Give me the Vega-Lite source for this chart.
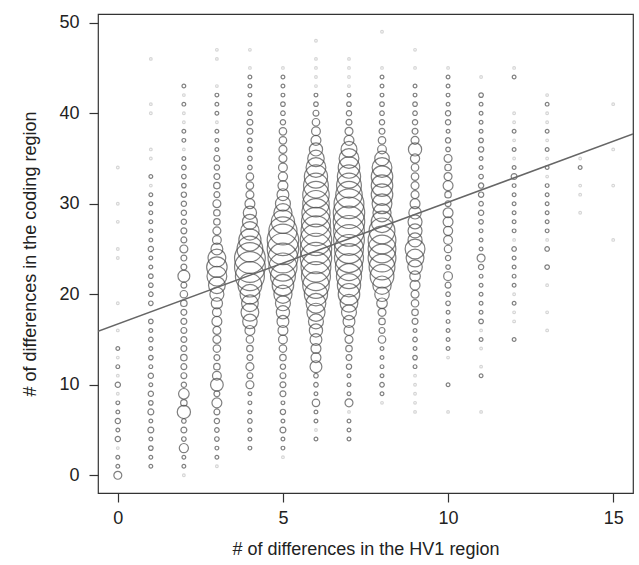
{
"$schema": "https://vega.github.io/schema/vega-lite/v6.json",
"width": 535, "height": 479,
"autosize": {"type": "none"},
"padding": {"left": 98, "top": 14, "right": 6, "bottom": 72},
"config": {
  "view": {"stroke": "#333333", "strokeWidth": 1.2},
  "axis": {"domain": false, "grid": false, "tickColor": "#333333", "tickSize": 9, "tickWidth": 1.2,
    "labelFont": "Liberation Sans", "labelFontSize": 18, "labelColor": "#222222",
    "titleFont": "Liberation Sans", "titleFontSize": 18, "titleFontWeight": "normal", "titleColor": "#222222"}
},
"datasets": {
"pts": [
{"x":0,"y":0,"n":9},{"x":0,"y":1,"n":2},{"x":0,"y":2,"n":2},{"x":0,"y":3,"n":1},{"x":0,"y":4,"n":4},{"x":0,"y":5,"n":2},{"x":0,"y":6,"n":4},{"x":0,"y":7,"n":2},{"x":0,"y":8,"n":2},{"x":0,"y":9,"n":1},{"x":0,"y":10,"n":4},{"x":0,"y":11,"n":1},{"x":0,"y":12,"n":2},{"x":0,"y":13,"n":1},{"x":0,"y":14,"n":2},{"x":0,"y":16,"n":1},{"x":0,"y":19,"n":1},{"x":0,"y":24,"n":1},{"x":0,"y":25,"n":1},{"x":0,"y":28,"n":1},{"x":0,"y":30,"n":1},{"x":0,"y":34,"n":1},
{"x":1,"y":1,"n":2},{"x":1,"y":2,"n":2},{"x":1,"y":3,"n":3},{"x":1,"y":4,"n":2},{"x":1,"y":5,"n":5},{"x":1,"y":6,"n":2},{"x":1,"y":7,"n":5},{"x":1,"y":8,"n":3},{"x":1,"y":9,"n":4},{"x":1,"y":10,"n":2},{"x":1,"y":11,"n":4},{"x":1,"y":12,"n":2},{"x":1,"y":13,"n":3},{"x":1,"y":14,"n":2},{"x":1,"y":15,"n":3},{"x":1,"y":16,"n":2},{"x":1,"y":17,"n":3},{"x":1,"y":19,"n":3},{"x":1,"y":20,"n":3},{"x":1,"y":21,"n":3},{"x":1,"y":22,"n":3},{"x":1,"y":23,"n":2},{"x":1,"y":24,"n":2},{"x":1,"y":25,"n":4},{"x":1,"y":26,"n":2},{"x":1,"y":27,"n":2},{"x":1,"y":28,"n":2},{"x":1,"y":29,"n":2},{"x":1,"y":30,"n":2},{"x":1,"y":31,"n":2},{"x":1,"y":32,"n":1},{"x":1,"y":33,"n":2},{"x":1,"y":35,"n":1},{"x":1,"y":36,"n":1},{"x":1,"y":40,"n":1},{"x":1,"y":41,"n":1},{"x":1,"y":46,"n":1},
{"x":2,"y":0,"n":1},{"x":2,"y":1,"n":2},{"x":2,"y":2,"n":2},{"x":2,"y":3,"n":12},{"x":2,"y":4,"n":3},{"x":2,"y":5,"n":5},{"x":2,"y":6,"n":3},{"x":2,"y":7,"n":25},{"x":2,"y":8,"n":6},{"x":2,"y":9,"n":16},{"x":2,"y":10,"n":4},{"x":2,"y":11,"n":5},{"x":2,"y":12,"n":5},{"x":2,"y":13,"n":6},{"x":2,"y":14,"n":5},{"x":2,"y":15,"n":5},{"x":2,"y":16,"n":5},{"x":2,"y":17,"n":5},{"x":2,"y":18,"n":5},{"x":2,"y":19,"n":6},{"x":2,"y":20,"n":8},{"x":2,"y":21,"n":5},{"x":2,"y":22,"n":20},{"x":2,"y":23,"n":5},{"x":2,"y":24,"n":5},{"x":2,"y":25,"n":9},{"x":2,"y":26,"n":5},{"x":2,"y":27,"n":5},{"x":2,"y":28,"n":4},{"x":2,"y":29,"n":4},{"x":2,"y":30,"n":4},{"x":2,"y":31,"n":4},{"x":2,"y":32,"n":3},{"x":2,"y":33,"n":3},{"x":2,"y":34,"n":3},{"x":2,"y":35,"n":2},{"x":2,"y":36,"n":1},{"x":2,"y":37,"n":2},{"x":2,"y":38,"n":2},{"x":2,"y":39,"n":1},{"x":2,"y":40,"n":1},{"x":2,"y":41,"n":2},{"x":2,"y":42,"n":1},{"x":2,"y":43,"n":2},
{"x":3,"y":1,"n":1},{"x":3,"y":2,"n":2},{"x":3,"y":3,"n":2},{"x":3,"y":4,"n":3},{"x":3,"y":5,"n":3},{"x":3,"y":6,"n":4},{"x":3,"y":7,"n":5},{"x":3,"y":8,"n":14},{"x":3,"y":9,"n":5},{"x":3,"y":10,"n":23},{"x":3,"y":11,"n":11},{"x":3,"y":12,"n":6},{"x":3,"y":13,"n":5},{"x":3,"y":14,"n":8},{"x":3,"y":15,"n":9},{"x":3,"y":16,"n":9},{"x":3,"y":17,"n":14},{"x":3,"y":18,"n":11},{"x":3,"y":19,"n":18},{"x":3,"y":20,"n":28},{"x":3,"y":21,"n":40},{"x":3,"y":22,"n":56},{"x":3,"y":23,"n":60},{"x":3,"y":24,"n":45},{"x":3,"y":25,"n":20},{"x":3,"y":26,"n":11},{"x":3,"y":27,"n":9},{"x":3,"y":28,"n":6},{"x":3,"y":29,"n":6},{"x":3,"y":30,"n":9},{"x":3,"y":31,"n":5},{"x":3,"y":32,"n":6},{"x":3,"y":33,"n":5},{"x":3,"y":34,"n":4},{"x":3,"y":35,"n":5},{"x":3,"y":36,"n":2},{"x":3,"y":37,"n":2},{"x":3,"y":38,"n":2},{"x":3,"y":39,"n":1},{"x":3,"y":40,"n":2},{"x":3,"y":41,"n":2},{"x":3,"y":42,"n":2},{"x":3,"y":43,"n":1},{"x":3,"y":46,"n":1},{"x":3,"y":47,"n":1},
{"x":4,"y":3,"n":2},{"x":4,"y":4,"n":2},{"x":4,"y":5,"n":2},{"x":4,"y":6,"n":3},{"x":4,"y":7,"n":2},{"x":4,"y":8,"n":2},{"x":4,"y":9,"n":2},{"x":4,"y":10,"n":9},{"x":4,"y":11,"n":5},{"x":4,"y":12,"n":9},{"x":4,"y":13,"n":5},{"x":4,"y":14,"n":6},{"x":4,"y":15,"n":8},{"x":4,"y":16,"n":14},{"x":4,"y":17,"n":30},{"x":4,"y":18,"n":45},{"x":4,"y":19,"n":40},{"x":4,"y":20,"n":56},{"x":4,"y":21,"n":80},{"x":4,"y":22,"n":120},{"x":4,"y":23,"n":135},{"x":4,"y":24,"n":135},{"x":4,"y":25,"n":95},{"x":4,"y":26,"n":70},{"x":4,"y":27,"n":48},{"x":4,"y":28,"n":32},{"x":4,"y":29,"n":25},{"x":4,"y":30,"n":14},{"x":4,"y":31,"n":9},{"x":4,"y":32,"n":8},{"x":4,"y":33,"n":8},{"x":4,"y":34,"n":3},{"x":4,"y":35,"n":3},{"x":4,"y":36,"n":3},{"x":4,"y":37,"n":3},{"x":4,"y":38,"n":5},{"x":4,"y":39,"n":5},{"x":4,"y":40,"n":3},{"x":4,"y":41,"n":2},{"x":4,"y":42,"n":2},{"x":4,"y":43,"n":2},{"x":4,"y":44,"n":2},{"x":4,"y":45,"n":1},{"x":4,"y":47,"n":1},
{"x":5,"y":2,"n":1},{"x":5,"y":3,"n":2},{"x":5,"y":4,"n":2},{"x":5,"y":5,"n":5},{"x":5,"y":6,"n":2},{"x":5,"y":7,"n":4},{"x":5,"y":8,"n":2},{"x":5,"y":9,"n":5},{"x":5,"y":10,"n":5},{"x":5,"y":11,"n":5},{"x":5,"y":12,"n":4},{"x":5,"y":13,"n":6},{"x":5,"y":14,"n":8},{"x":5,"y":15,"n":11},{"x":5,"y":16,"n":14},{"x":5,"y":17,"n":20},{"x":5,"y":18,"n":25},{"x":5,"y":19,"n":32},{"x":5,"y":20,"n":47},{"x":5,"y":21,"n":66},{"x":5,"y":22,"n":88},{"x":5,"y":23,"n":113},{"x":5,"y":24,"n":127},{"x":5,"y":25,"n":141},{"x":5,"y":26,"n":141},{"x":5,"y":27,"n":113},{"x":5,"y":28,"n":77},{"x":5,"y":29,"n":47},{"x":5,"y":30,"n":32},{"x":5,"y":31,"n":20},{"x":5,"y":32,"n":14},{"x":5,"y":33,"n":12},{"x":5,"y":34,"n":11},{"x":5,"y":35,"n":9},{"x":5,"y":36,"n":9},{"x":5,"y":37,"n":8},{"x":5,"y":38,"n":8},{"x":5,"y":39,"n":4},{"x":5,"y":40,"n":3},{"x":5,"y":41,"n":3},{"x":5,"y":42,"n":2},{"x":5,"y":43,"n":2},{"x":5,"y":44,"n":2},{"x":5,"y":45,"n":1},
{"x":6,"y":4,"n":2},{"x":6,"y":5,"n":1},{"x":6,"y":6,"n":2},{"x":6,"y":7,"n":2},{"x":6,"y":8,"n":8},{"x":6,"y":9,"n":2},{"x":6,"y":10,"n":3},{"x":6,"y":11,"n":3},{"x":6,"y":12,"n":20},{"x":6,"y":13,"n":14},{"x":6,"y":14,"n":14},{"x":6,"y":15,"n":20},{"x":6,"y":16,"n":25},{"x":6,"y":17,"n":32},{"x":6,"y":18,"n":47},{"x":6,"y":19,"n":56},{"x":6,"y":20,"n":77},{"x":6,"y":21,"n":100},{"x":6,"y":22,"n":120},{"x":6,"y":23,"n":127},{"x":6,"y":24,"n":141},{"x":6,"y":25,"n":141},{"x":6,"y":26,"n":141},{"x":6,"y":27,"n":127},{"x":6,"y":28,"n":120},{"x":6,"y":29,"n":113},{"x":6,"y":30,"n":100},{"x":6,"y":31,"n":100},{"x":6,"y":32,"n":88},{"x":6,"y":33,"n":77},{"x":6,"y":34,"n":56},{"x":6,"y":35,"n":39},{"x":6,"y":36,"n":25},{"x":6,"y":37,"n":14},{"x":6,"y":38,"n":11},{"x":6,"y":39,"n":8},{"x":6,"y":40,"n":5},{"x":6,"y":41,"n":3},{"x":6,"y":42,"n":2},{"x":6,"y":43,"n":1},{"x":6,"y":44,"n":1},{"x":6,"y":45,"n":1},{"x":6,"y":46,"n":1},{"x":6,"y":48,"n":1},
{"x":7,"y":4,"n":2},{"x":7,"y":5,"n":2},{"x":7,"y":6,"n":2},{"x":7,"y":7,"n":1},{"x":7,"y":8,"n":9},{"x":7,"y":9,"n":2},{"x":7,"y":10,"n":2},{"x":7,"y":11,"n":2},{"x":7,"y":12,"n":4},{"x":7,"y":13,"n":5},{"x":7,"y":14,"n":6},{"x":7,"y":15,"n":9},{"x":7,"y":16,"n":14},{"x":7,"y":17,"n":20},{"x":7,"y":18,"n":32},{"x":7,"y":19,"n":45},{"x":7,"y":20,"n":66},{"x":7,"y":21,"n":77},{"x":7,"y":22,"n":90},{"x":7,"y":23,"n":105},{"x":7,"y":24,"n":120},{"x":7,"y":25,"n":120},{"x":7,"y":26,"n":135},{"x":7,"y":27,"n":135},{"x":7,"y":28,"n":141},{"x":7,"y":29,"n":141},{"x":7,"y":30,"n":127},{"x":7,"y":31,"n":100},{"x":7,"y":32,"n":88},{"x":7,"y":33,"n":77},{"x":7,"y":34,"n":66},{"x":7,"y":35,"n":56},{"x":7,"y":36,"n":36},{"x":7,"y":37,"n":14},{"x":7,"y":38,"n":9},{"x":7,"y":39,"n":5},{"x":7,"y":40,"n":4},{"x":7,"y":41,"n":3},{"x":7,"y":42,"n":2},{"x":7,"y":43,"n":1},{"x":7,"y":44,"n":1},{"x":7,"y":45,"n":1},{"x":7,"y":46,"n":1},
{"x":8,"y":8,"n":1},{"x":8,"y":9,"n":2},{"x":8,"y":10,"n":3},{"x":8,"y":11,"n":2},{"x":8,"y":12,"n":2},{"x":8,"y":13,"n":2},{"x":8,"y":14,"n":2},{"x":8,"y":15,"n":8},{"x":8,"y":16,"n":5},{"x":8,"y":17,"n":6},{"x":8,"y":18,"n":9},{"x":8,"y":19,"n":16},{"x":8,"y":20,"n":30},{"x":8,"y":21,"n":48},{"x":8,"y":22,"n":80},{"x":8,"y":23,"n":95},{"x":8,"y":24,"n":110},{"x":8,"y":25,"n":110},{"x":8,"y":26,"n":110},{"x":8,"y":27,"n":95},{"x":8,"y":28,"n":66},{"x":8,"y":29,"n":47},{"x":8,"y":30,"n":56},{"x":8,"y":31,"n":66},{"x":8,"y":32,"n":66},{"x":8,"y":33,"n":66},{"x":8,"y":34,"n":56},{"x":8,"y":35,"n":30},{"x":8,"y":36,"n":11},{"x":8,"y":37,"n":8},{"x":8,"y":38,"n":5},{"x":8,"y":39,"n":4},{"x":8,"y":40,"n":3},{"x":8,"y":41,"n":3},{"x":8,"y":42,"n":2},{"x":8,"y":43,"n":2},{"x":8,"y":44,"n":2},{"x":8,"y":45,"n":1},{"x":8,"y":49,"n":1},
{"x":9,"y":7,"n":1},{"x":9,"y":8,"n":1},{"x":9,"y":9,"n":1},{"x":9,"y":10,"n":1},{"x":9,"y":11,"n":1},{"x":9,"y":12,"n":2},{"x":9,"y":13,"n":3},{"x":9,"y":14,"n":2},{"x":9,"y":15,"n":3},{"x":9,"y":16,"n":2},{"x":9,"y":17,"n":5},{"x":9,"y":18,"n":6},{"x":9,"y":19,"n":8},{"x":9,"y":20,"n":9},{"x":9,"y":21,"n":14},{"x":9,"y":22,"n":16},{"x":9,"y":23,"n":30},{"x":9,"y":24,"n":45},{"x":9,"y":25,"n":56},{"x":9,"y":26,"n":28},{"x":9,"y":27,"n":28},{"x":9,"y":28,"n":28},{"x":9,"y":29,"n":22},{"x":9,"y":30,"n":14},{"x":9,"y":31,"n":9},{"x":9,"y":32,"n":9},{"x":9,"y":33,"n":8},{"x":9,"y":34,"n":8},{"x":9,"y":35,"n":12},{"x":9,"y":36,"n":25},{"x":9,"y":37,"n":9},{"x":9,"y":38,"n":5},{"x":9,"y":39,"n":4},{"x":9,"y":40,"n":3},{"x":9,"y":41,"n":3},{"x":9,"y":42,"n":2},{"x":9,"y":43,"n":2},{"x":9,"y":45,"n":1},{"x":9,"y":47,"n":1},
{"x":10,"y":7,"n":1},{"x":10,"y":10,"n":2},{"x":10,"y":13,"n":1},{"x":10,"y":14,"n":2},{"x":10,"y":15,"n":2},{"x":10,"y":16,"n":2},{"x":10,"y":17,"n":2},{"x":10,"y":18,"n":2},{"x":10,"y":19,"n":3},{"x":10,"y":20,"n":3},{"x":10,"y":21,"n":5},{"x":10,"y":22,"n":11},{"x":10,"y":23,"n":3},{"x":10,"y":24,"n":4},{"x":10,"y":25,"n":8},{"x":10,"y":26,"n":11},{"x":10,"y":27,"n":12},{"x":10,"y":28,"n":14},{"x":10,"y":29,"n":14},{"x":10,"y":30,"n":5},{"x":10,"y":31,"n":6},{"x":10,"y":32,"n":14},{"x":10,"y":33,"n":9},{"x":10,"y":34,"n":6},{"x":10,"y":35,"n":9},{"x":10,"y":36,"n":3},{"x":10,"y":37,"n":4},{"x":10,"y":38,"n":2},{"x":10,"y":39,"n":4},{"x":10,"y":40,"n":4},{"x":10,"y":41,"n":2},{"x":10,"y":42,"n":2},{"x":10,"y":43,"n":2},{"x":10,"y":44,"n":2},{"x":10,"y":45,"n":1},
{"x":11,"y":7,"n":1},{"x":11,"y":11,"n":2},{"x":11,"y":12,"n":1},{"x":11,"y":14,"n":1},{"x":11,"y":15,"n":2},{"x":11,"y":16,"n":1},{"x":11,"y":17,"n":3},{"x":11,"y":18,"n":2},{"x":11,"y":19,"n":2},{"x":11,"y":20,"n":2},{"x":11,"y":21,"n":2},{"x":11,"y":22,"n":2},{"x":11,"y":23,"n":4},{"x":11,"y":24,"n":9},{"x":11,"y":25,"n":2},{"x":11,"y":26,"n":2},{"x":11,"y":27,"n":2},{"x":11,"y":28,"n":3},{"x":11,"y":29,"n":4},{"x":11,"y":30,"n":3},{"x":11,"y":31,"n":4},{"x":11,"y":32,"n":4},{"x":11,"y":33,"n":3},{"x":11,"y":34,"n":2},{"x":11,"y":35,"n":2},{"x":11,"y":36,"n":4},{"x":11,"y":37,"n":3},{"x":11,"y":38,"n":2},{"x":11,"y":39,"n":2},{"x":11,"y":40,"n":2},{"x":11,"y":41,"n":2},{"x":11,"y":42,"n":3},{"x":11,"y":44,"n":1},
{"x":12,"y":15,"n":2},{"x":12,"y":17,"n":1},{"x":12,"y":18,"n":1},{"x":12,"y":19,"n":2},{"x":12,"y":20,"n":1},{"x":12,"y":21,"n":2},{"x":12,"y":22,"n":2},{"x":12,"y":23,"n":2},{"x":12,"y":24,"n":2},{"x":12,"y":25,"n":3},{"x":12,"y":26,"n":1},{"x":12,"y":27,"n":2},{"x":12,"y":28,"n":2},{"x":12,"y":29,"n":2},{"x":12,"y":30,"n":2},{"x":12,"y":31,"n":2},{"x":12,"y":32,"n":2},{"x":12,"y":33,"n":5},{"x":12,"y":34,"n":2},{"x":12,"y":35,"n":1},{"x":12,"y":36,"n":2},{"x":12,"y":37,"n":1},{"x":12,"y":38,"n":2},{"x":12,"y":39,"n":1},{"x":12,"y":40,"n":1},{"x":12,"y":44,"n":2},{"x":12,"y":45,"n":1},
{"x":13,"y":16,"n":1},{"x":13,"y":18,"n":1},{"x":13,"y":21,"n":1},{"x":13,"y":23,"n":3},{"x":13,"y":25,"n":3},{"x":13,"y":26,"n":1},{"x":13,"y":27,"n":2},{"x":13,"y":28,"n":2},{"x":13,"y":29,"n":2},{"x":13,"y":30,"n":2},{"x":13,"y":31,"n":2},{"x":13,"y":32,"n":2},{"x":13,"y":33,"n":1},{"x":13,"y":34,"n":2},{"x":13,"y":35,"n":1},{"x":13,"y":36,"n":2},{"x":13,"y":37,"n":1},{"x":13,"y":38,"n":2},{"x":13,"y":39,"n":1},{"x":13,"y":40,"n":1},{"x":13,"y":41,"n":2},{"x":13,"y":42,"n":1},
{"x":14,"y":29,"n":1},{"x":14,"y":31,"n":1},{"x":14,"y":32,"n":1},{"x":14,"y":34,"n":2},{"x":14,"y":35,"n":1},
{"x":15,"y":26,"n":1},{"x":15,"y":32,"n":1},{"x":15,"y":36,"n":1},{"x":15,"y":41,"n":1}
],
"fit": [{"x": -0.6, "y": 15.9}, {"x": 15.6, "y": 37.7}]
},
"layer": [
  {"data": {"name": "pts"},
   "mark": {"type": "point", "shape": "circle", "filled": false, "strokeWidth": 1.2},
   "encoding": {
     "x": {"field": "x", "type": "quantitative", "scale": {"domain": [-0.6, 15.6], "nice": false, "zero": false},
           "axis": {"values": [0, 5, 10, 15], "title": "# of differences in the HV1 region", "labelPadding": 7, "titlePadding": 13}},
     "y": {"field": "y", "type": "quantitative", "scale": {"domain": [-1.96, 50.96], "nice": false, "zero": false},
           "axis": {"values": [0, 10, 20, 30, 40, 50], "title": "# of differences in the coding region", "labelPadding": 10, "titlePadding": 19}},
     "size": {"field": "n", "type": "quantitative", "scale": {"type": "linear", "domain": [0, 100], "range": [0, 700]}, "legend": null},
     "color": {"field": "n", "type": "quantitative", "scale": {"type": "threshold", "domain": [1.5], "range": ["#c4c4c4", "#4a4a4a"]}, "legend": null}
   }},
  {"data": {"name": "fit"},
   "mark": {"type": "line", "color": "#666666", "strokeWidth": 1.5, "clip": true},
   "encoding": {"x": {"field": "x", "type": "quantitative"}, "y": {"field": "y", "type": "quantitative"}}}
]
}
